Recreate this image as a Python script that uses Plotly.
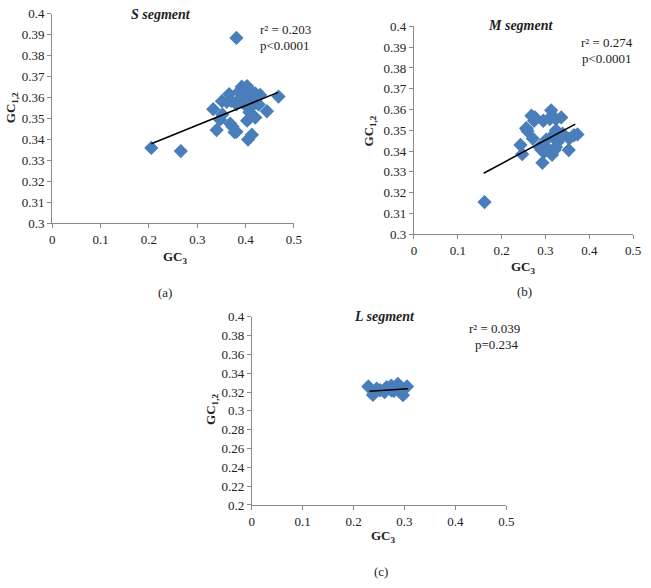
import plotly.graph_objects as go

# ---------------- data ----------------
s_gc3 = [0.205, 0.266, 0.381, 0.333, 0.340, 0.347, 0.352, 0.366, 0.370, 0.361, 0.351,
         0.381, 0.368, 0.373, 0.381, 0.403, 0.405, 0.413, 0.408, 0.420, 0.444, 0.468,
         0.427, 0.430, 0.420, 0.407, 0.400, 0.392, 0.386, 0.396, 0.403, 0.411, 0.417,
         0.389, 0.399, 0.409, 0.377, 0.425]
s_gc12 = [0.336, 0.3345, 0.3885, 0.3545, 0.3445, 0.3495, 0.352, 0.3617, 0.3585, 0.358, 0.3583,
          0.3568, 0.3476, 0.3461, 0.3437, 0.349, 0.340, 0.3423, 0.353, 0.3505, 0.3535, 0.3605,
          0.3567, 0.3613, 0.362, 0.362, 0.3636, 0.3652, 0.3628, 0.3605, 0.3655, 0.3631, 0.359,
          0.3597, 0.3565, 0.355, 0.3435, 0.3605]
s_trend_x = [0.205, 0.467]
s_trend_y = [0.338, 0.3625]

m_gc3 = [0.161, 0.243, 0.247, 0.257, 0.256, 0.259, 0.268, 0.276, 0.274, 0.271, 0.286,
         0.293, 0.291, 0.298, 0.301, 0.302, 0.313, 0.315, 0.324, 0.336, 0.295, 0.310,
         0.315, 0.321, 0.324, 0.328, 0.333, 0.317, 0.339, 0.354, 0.353, 0.365, 0.373, 0.324]
m_gc12 = [0.3154, 0.3429, 0.3385, 0.3507, 0.351, 0.3496, 0.357, 0.3562, 0.3546, 0.346, 0.342,
          0.3343, 0.3405, 0.3397, 0.3421, 0.3455, 0.3596, 0.357, 0.3554, 0.3562, 0.3546, 0.3554,
          0.3382, 0.3405, 0.342, 0.3444, 0.346, 0.3476, 0.3484, 0.346, 0.3405, 0.3476, 0.348, 0.350]
m_trend_x = [0.159, 0.368]
m_trend_y = [0.3293, 0.353]

l_gc3 = [0.229, 0.238, 0.252, 0.265, 0.274, 0.279, 0.287, 0.294, 0.297, 0.305, 0.274, 0.261, 0.2455]
l_gc12 = [0.326, 0.317, 0.322, 0.3254, 0.327, 0.3212, 0.3288, 0.3237, 0.3168, 0.326, 0.322, 0.320, 0.3237]
l_trend_x = [0.231, 0.307]
l_trend_y = [0.3209, 0.3237]

panels = [
    dict(name="S segment", x=s_gc3, y=s_gc12, tx=s_trend_x, ty=s_trend_y,
         r2="r² = 0.203", p="p<0.0001", label="(a)"),
    dict(name="M segment", x=m_gc3, y=m_gc12, tx=m_trend_x, ty=m_trend_y,
         r2="r² = 0.274", p="p<0.0001", label="(b)"),
    dict(name="L segment", x=l_gc3, y=l_gc12, tx=l_trend_x, ty=l_trend_y,
         r2="r² = 0.039", p="p=0.234", label="(c)"),
]
x_ticks = [0, 0.1, 0.2, 0.3, 0.4, 0.5]
y_ranges = [[0.3, 0.4], [0.3, 0.4], [0.2, 0.4]]
y_dticks = [0.01, 0.01, 0.02]

# ---------------- layout geometry (pixels) ----------------
W, H = 651, 588
boxes = [(50, 296, 7, 222), (418, 641, 20, 233), (253, 512, 318, 511)]  # x0,x1,ytop,ybottom
text_pos = [
    dict(title=(161, 8), r2=(287, 23), p=(287, 39), xt=(175, 257), yt=(9, 103), lab=(165, 293)),
    dict(title=(527, 19), r2=(614, 36), p=(614, 53), xt=(529, 267), yt=(373, 127), lab=(530, 292)),
    dict(title=(388, 318), r2=(500, 330), p=(502, 346), xt=(387, 543), yt=(212, 413), lab=(385, 579)),
]

def px(x):
    return x / W

def py(y):
    return 1 - y / H

FONT = "Liberation Serif"
BLUE = "#4A7EBB"
TXT = "#222222"
AX = "#8a8a8a"

fig = go.Figure()
annotations = []
layout = dict(width=W, height=H, margin=dict(l=0, r=0, t=0, b=0),
              plot_bgcolor="white", paper_bgcolor="white", showlegend=False,
              hovermode=False,
              font=dict(family=FONT, size=13, color=TXT))

for i, pn in enumerate(panels):
    k = "" if i == 0 else str(i + 1)
    xa, ya = "x" + k, "y" + k
    fig.add_trace(go.Scatter(x=pn["x"], y=pn["y"], mode="markers", xaxis=xa, yaxis=ya,
                             marker=dict(symbol="diamond", size=11, color=BLUE,
                                         line=dict(width=0))))
    fig.add_trace(go.Scatter(x=pn["tx"], y=pn["ty"], mode="lines", xaxis=xa, yaxis=ya,
                             line=dict(color="black", width=1.5)))
    x0, x1, yt, yb = boxes[i]
    layout["xaxis" + k] = dict(domain=[px(x0), px(x1)], range=[0, 0.5], tickvals=x_ticks,
                               showgrid=False, zeroline=False, showline=True, linecolor=AX,
                               ticks="outside", ticklen=4, tickcolor=AX,
                               tickfont=dict(family=FONT, size=13, color=TXT),
                               anchor=ya, fixedrange=True)
    layout["yaxis" + k] = dict(domain=[py(yb), py(yt)], range=y_ranges[i], dtick=y_dticks[i],
                               showgrid=False, zeroline=False, showline=True, linecolor=AX,
                               ticks="outside", ticklen=4, tickcolor=AX,
                               tickfont=dict(family=FONT, size=13, color=TXT),
                               anchor=xa, fixedrange=True)
    tp = text_pos[i]
    annotations += [
        dict(text="<b><i>" + pn["name"] + "</i></b>", x=px(tp["title"][0]), y=py(tp["title"][1]),
             font=dict(size=14)),
        dict(text=pn["r2"], x=px(tp["r2"][0]), y=py(tp["r2"][1]), font=dict(size=13)),
        dict(text=pn["p"], x=px(tp["p"][0]), y=py(tp["p"][1]), font=dict(size=13)),
        dict(text="<b>GC<sub>3</sub></b>", x=px(tp["xt"][0]), y=py(tp["xt"][1]), font=dict(size=13)),
        dict(text="<b>GC<sub>1,2</sub></b>", x=px(tp["yt"][0]), y=py(tp["yt"][1]),
             textangle=-90, font=dict(size=13)),
        dict(text=pn["label"], x=px(tp["lab"][0]), y=py(tp["lab"][1]), font=dict(size=13)),
    ]

for a in annotations:
    a.update(xref="paper", yref="paper", showarrow=False, xanchor="center", yanchor="middle")

layout["annotations"] = annotations
fig.update_layout(**layout)
fig.write_html("out.html", config={"displayModeBar": False, "staticPlot": True},
               post_script="document.body.style.margin='0px';document.body.style.overflow='hidden';")
